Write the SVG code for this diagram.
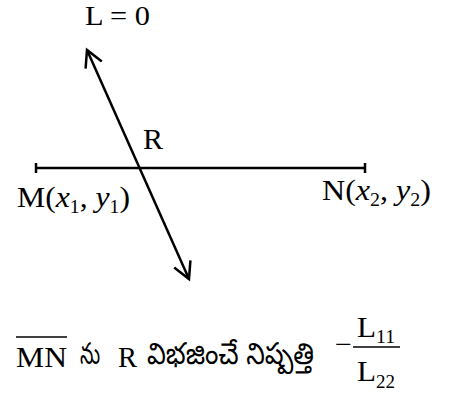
<svg xmlns="http://www.w3.org/2000/svg" width="449" height="396" viewBox="0 0 449 396">
<style>
.t{font-family:"Liberation Serif","Times New Roman",serif;font-size:29px;fill:#000}
.i{font-style:italic}
.s{font-size:18px}
.te{font-family:"Noto Sans Telugu","Noto Sans","DejaVu Sans",sans-serif;font-size:30px;fill:#000}
.ln{stroke:#000;stroke-width:2.5;fill:none}
.thin{stroke:#000;stroke-width:1.3;fill:none}
</style>
<defs>
<marker id="arr" viewBox="0 0 20 20" markerWidth="20" markerHeight="20" refX="17" refY="10" markerUnits="userSpaceOnUse" orient="auto-start-reverse">
<path d="M0.5,1.1 L17,10 L0.5,18.9" fill="none" stroke="#000" stroke-width="2.5"/>
</marker>
</defs>
<g id="connectors">
<line id="line-L" class="ln" x1="87" y1="50" x2="189" y2="279" marker-start="url(#arr)" marker-end="url(#arr)"/>
</g>
<g id="segment-MN">
<line class="ln" x1="36" y1="168" x2="365" y2="168"/>
<line class="ln" x1="36" y1="163" x2="36" y2="173"/>
<line class="ln" x1="365" y1="163" x2="365" y2="173"/>
</g>
<g id="label-L0">
<text class="t" x="85" y="25" style="font-size:27px" textLength="65" lengthAdjust="spacingAndGlyphs">L = 0</text>
</g>
<g id="point-R">
<text class="t" x="143" y="149" textLength="20" lengthAdjust="spacingAndGlyphs">R</text>
</g>
<g id="point-M">
<text class="t" x="17" y="207" textLength="113" lengthAdjust="spacingAndGlyphs">M(<tspan class="i">x</tspan><tspan class="s" dy="6">1</tspan><tspan dy="-6">, </tspan><tspan class="i">y</tspan><tspan class="s" dy="6">1</tspan><tspan dy="-6">)</tspan></text>
</g>
<g id="point-N">
<text class="t" x="322" y="200" textLength="109" lengthAdjust="spacingAndGlyphs">N(<tspan class="i">x</tspan><tspan class="s" dy="6">2</tspan><tspan dy="-6">, </tspan><tspan class="i">y</tspan><tspan class="s" dy="6">2</tspan><tspan dy="-6">)</tspan></text>
</g>
<g id="statement">
<text class="t" x="16" y="367" textLength="51" lengthAdjust="spacingAndGlyphs">MN</text>
<line class="thin" x1="16" y1="337" x2="67" y2="337"/>
<text class="te" x="80" y="364" textLength="20" lengthAdjust="spacingAndGlyphs">ను</text>
<text class="t" x="118" y="367" textLength="19" lengthAdjust="spacingAndGlyphs">R</text>
<text class="te" x="147" y="364" textLength="167" lengthAdjust="spacingAndGlyphs">విభజించే నిష్పత్తి</text>
<text class="t" x="335" y="353" style="font-size:26px" textLength="17" lengthAdjust="spacingAndGlyphs">−</text>
<text class="t" x="357" y="337" textLength="19" lengthAdjust="spacingAndGlyphs">L</text>
<text class="t s" x="376" y="343" textLength="19" lengthAdjust="spacingAndGlyphs">11</text>
<line class="thin" x1="353" y1="347" x2="400" y2="347"/>
<text class="t" x="357" y="381" textLength="19" lengthAdjust="spacingAndGlyphs">L</text>
<text class="t s" x="376" y="388" textLength="19" lengthAdjust="spacingAndGlyphs">22</text>
</g>
</svg>
